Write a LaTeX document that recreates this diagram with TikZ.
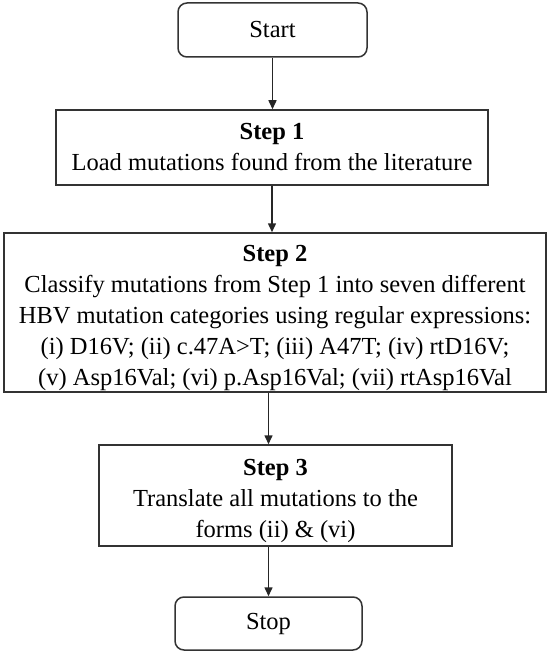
\documentclass[tikz,border=0pt]{standalone}
\usepackage{fontspec}
\setmainfont{Liberation Serif}
\usetikzlibrary{arrows.meta}
\begin{document}
\begin{tikzpicture}[x=1pt,y=-1pt,
  every node/.style={font=\fontsize{24.5}{31}\selectfont, align=center, inner sep=0pt, text=black},
  box/.style={draw=black!80, line width=1.5pt},
  term/.style={box, rounded corners=9pt},
  flow/.style={draw=black!85, line width=1.5pt, -{Triangle[length=9pt,width=8pt]}}]
\useasboundingbox (0,0) rectangle (550,655);
\node[term, minimum width=189pt, minimum height=54pt] (start) at (272.5,30) {Start};
\node[box, minimum width=432pt, minimum height=75pt] (s1) at (272,147.5)
  {\textbf{Step 1}\\Load mutations found from the literature};
\node[box, minimum width=542pt, minimum height=159pt] (s2) at (275,312.5)
  {\rule{0pt}{28pt}\textbf{Step 2}\\Classify mutations from Step 1 into seven different\\HBV mutation categories using regular expressions:\\(i) D16V; (ii) c.47A>T; (iii) A47T; (iv) rtD16V;\\(v) Asp16Val; (vi) p.Asp16Val; (vii) rtAsp16Val};
\node[box, minimum width=353pt, minimum height=101pt] (s3) at (275.5,495.5)
  {\rule{0pt}{28pt}\textbf{Step 3}\\Translate all mutations to the\\forms (ii) \& (vi)};
\node[term, minimum width=187pt, minimum height=53pt] (stop) at (268.5,623.5) {Stop};
\draw[flow] (start.south) -- (start.south |- s1.north);
\draw[flow] (s1.south) -- (s1.south |- s2.north);
\draw[flow] (s2.south -| stop.north) -- (s3.north -| stop.north);
\draw[flow] (s3.south -| stop.north) -- (stop.north);
\end{tikzpicture}
\end{document}
